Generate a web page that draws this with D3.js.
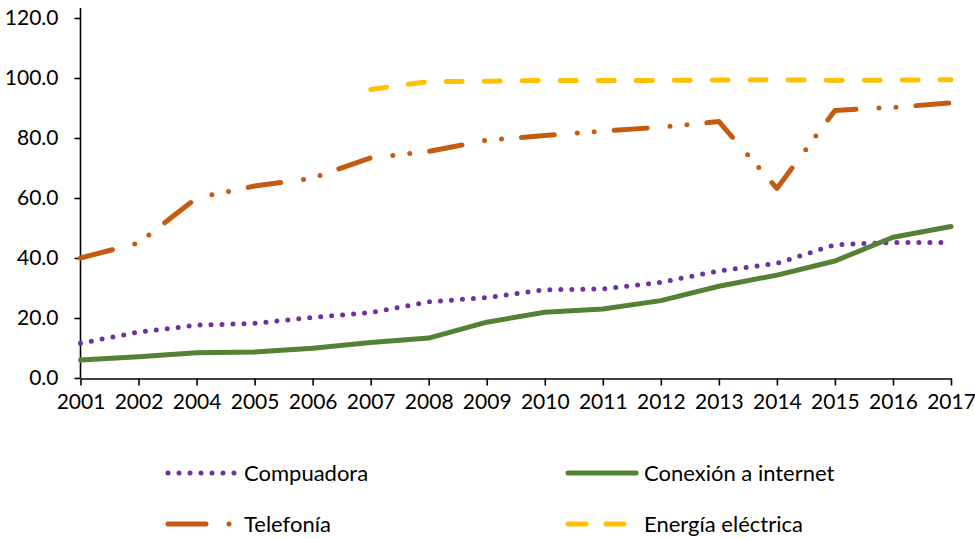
<!DOCTYPE html>
<html>
<head>
<meta charset="utf-8">
<script src="https://cdn.jsdelivr.net/npm/d3@7"></script>
<style>
  html, body { margin: 0; padding: 0; background: #fff; }
  svg { display: block; }
  text { font-family: Lato, "Open Sans", sans-serif; fill: #000; }
</style>
</head>
<body>
<svg id="chart" width="975" height="539"></svg>
<script>
// Años de la encuesta (2003 no se levantó)
const years = ["2001","2002","2004","2005","2006","2007","2008","2009","2010","2011","2012","2013","2014","2015","2016","2017"];

// Porcentaje de hogares con cada servicio
const computadora = [11.6, 15.3, 17.6, 18.2, 20.2, 21.8, 25.4, 26.8, 29.4, 29.7, 31.9, 35.7, 38.2, 44.4, 45.2, 45.2];
const internet    = [6.0, 7.1, 8.4, 8.7, 9.9, 11.8, 13.3, 18.6, 21.9, 23.0, 25.8, 30.6, 34.3, 39.0, 46.9, 50.5];
const telefonia   = [40.0, 45.0, 60.0, 64.0, 66.6, 73.4, 75.5, 79.3, 80.8, 82.3, 83.6, 85.5, 63.2, 89.2, 90.2, 91.7];
const energia     = [null, null, null, null, null, 96.2, 98.8, 98.9, 99.2, 99.2, 99.2, 99.3, 99.4, 99.2, 99.3, 99.4];

const yTicks = [0, 20, 40, 60, 80, 100, 120];

const seriesNames = ["Compuadora", "Conexión a internet", "Telefonía", "Energía eléctrica"];

const svg = d3.select("#chart");

const x = d3.scalePoint().domain(years).range([80.5, 951]);
const y = d3.scaleLinear().domain([0, 120]).range([378, 18]);

// Ejes
const yAxis = svg.append("g")
  .attr("transform", "translate(80.5,0)")
  .call(d3.axisLeft(y).tickValues(yTicks).tickFormat(d3.format(".1f")).tickSize(6).tickSizeOuter(0).tickPadding(16));
const xAxis = svg.append("g")
  .attr("transform", "translate(0,378.5)")
  .call(d3.axisBottom(x).tickSize(7).tickSizeOuter(0).tickPadding(9));

[yAxis, xAxis].forEach(g => {
  g.select(".domain").attr("stroke", "#000").attr("stroke-width", 1.6);
  g.selectAll(".tick line").attr("stroke", "#000").attr("stroke-width", 1.6);
  g.selectAll(".tick text").attr("font-family", "Lato, sans-serif").attr("font-size", 21).attr("fill", "#000");
});
yAxis.select(".domain").attr("d", `M0,${y(120) - 10}V${y(0)}`);

const styles = [
  { name: seriesNames[0], data: computadora, color: "#7030A0", width: 5, dash: "0 11",            legendDash: "0 11",         legendLen: 68 },
  { name: seriesNames[1], data: internet,    color: "#548235", width: 5, dash: null,              legendDash: null,           legendLen: 68 },
  { name: seriesNames[2], data: telefonia,   color: "#C55A11", width: 5, dash: "33 23 0 17 0 20", legendDash: "38 23 0 100",  legendLen: 68 },
  { name: seriesNames[3], data: energia,     color: "#FFC000", width: 5, dash: "16 22",           legendDash: "18 20 18 100", legendLen: 57 }
];

const line = d3.line()
  .defined(d => d.v != null)
  .x(d => x(d.year))
  .y(d => y(d.v));

const drawOrder = [3, 2, 0, 1];
drawOrder.forEach(i => {
  const s = styles[i];
  const pts = years.map((yr, k) => ({ year: yr, v: s.data[k] }));
  svg.append("path")
    .attr("d", line(pts))
    .attr("fill", "none")
    .attr("stroke", s.color)
    .attr("stroke-width", s.width)
    .attr("stroke-linecap", "round")
    .attr("stroke-linejoin", "round")
    .attr("stroke-dasharray", s.dash);
});

// Leyenda
const legendPos = [
  { x: 168, y: 473 }, { x: 568, y: 473 },
  { x: 168, y: 524 }, { x: 568, y: 524 }
];
styles.forEach((s, i) => {
  const p = legendPos[i];
  const g = svg.append("g").attr("transform", `translate(${p.x},${p.y})`);
  g.append("line")
    .attr("x1", 0).attr("x2", s.legendLen).attr("y1", 0).attr("y2", 0)
    .attr("stroke", s.color)
    .attr("stroke-width", s.width)
    .attr("stroke-linecap", "round")
    .attr("stroke-dasharray", s.legendDash);
  g.append("text")
    .attr("x", 76).attr("y", 0).attr("dy", "0.35em")
    .attr("font-size", 22)
    .text(s.name);
});
</script>
</body>
</html>
